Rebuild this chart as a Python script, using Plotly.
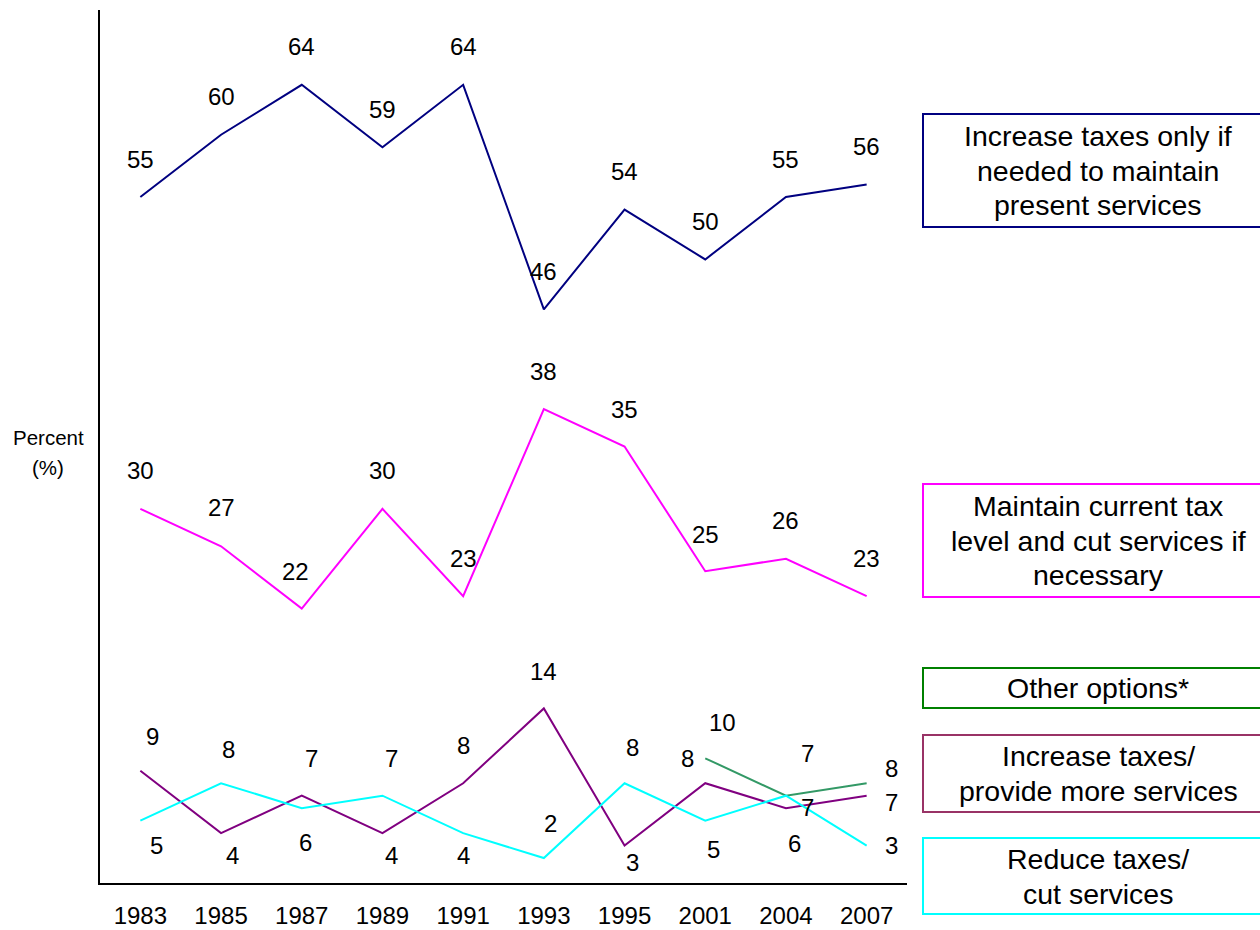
import plotly.graph_objects as go

years = ["1983", "1985", "1987", "1989", "1991", "1993", "1995", "2001", "2004", "2007"]
increase_if_needed = [55, 60, 64, 59, 64, 46, 54, 50, 55, 56]
maintain_cut = [30, 27, 22, 30, 23, 38, 35, 25, 26, 23]
increase_more = [9, 4, 7, 4, 8, 14, 3, 8, 6, 7]
reduce_cut = [5, 8, 6, 7, 4, 2, 8, 5, 7, 3]
other_options = [None, None, None, None, None, None, None, 10, 7, 8]

legend_names = [
    ["Increase taxes only if", "needed to maintain", "present services"],
    ["Maintain current tax", "level and cut services if", "necessary"],
    ["Other options*"],
    ["Increase taxes/", "provide more services"],
    ["Reduce taxes/", "cut services"],
]

# label pixel offsets (dx, dy_up) per point -- styling only
off_navy = [(0, 38)] * 10
off_mag = [(0, 38), (0, 39), (-6, 37), (0, 38), (0, 38), (0, 38), (0, 37), (0, 37), (0, 38), (0, 38)]
off_purple = [(12, 34), (11, -22), (10, 37), (9, -22), (0, 38), (0, 37), (8, -17), (-18, 25), (9, -35), (25, -7)]
off_cyan = [(16, -25), (7, 34), (4, -34), (9, 37), (0, -22), (7, 35), (8, 36), (8, -29), (22, 42), (25, 0)]
off_green = [None] * 7 + [(17, 36), (22, -12), (25, 15)]

series = [
    (increase_if_needed, "#000080", off_navy),
    (maintain_cut, "#FF00FF", off_mag),
    (other_options, "#339966", off_green),
    (increase_more, "#800080", off_purple),
    (reduce_cut, "#00FFFF", off_cyan),
]
box_colors = ["#000080", "#FF00FF", "#008000", "#993366", "#00FFFF"]
FONT = "Liberation Sans, Arial"

fig = go.Figure()
annotations = []
for (vals, color, offs), name in zip(series, legend_names):
    fig.add_trace(go.Scatter(x=years, y=vals, mode="lines", line=dict(color=color, width=2),
                             name=" ".join(name), showlegend=False))
    for i, (v, o) in enumerate(zip(vals, offs)):
        if v is None:
            continue
        annotations.append(dict(x=i, y=v, xref="x", yref="y", text=str(v), showarrow=False,
                                xanchor="center", yanchor="middle",
                                xshift=o[0], yshift=o[1],
                                font=dict(size=24, color="black", family=FONT)))

# legend boxes (pixel geometry converted to paper coords)
L, R, T, B = 100, 907, 10, 883
def px(xp):
    return (xp - L) / (R - L)
def py(yp):
    return (B - yp) / (B - T)

box_y = [(114, 227), (484, 597), (668, 708), (735, 812), (838, 914)]
LINE = 35
shapes = []
for (y0, y1), c, lines in zip(box_y, box_colors, legend_names):
    shapes.append(dict(type="rect", xref="paper", yref="paper", x0=px(923), x1=px(1273),
                       y0=py(y1), y1=py(y0), line=dict(color=c, width=2), fillcolor="white", layer="below"))
    yc = (y0 + y1) / 2
    n = len(lines)
    for k, t in enumerate(lines):
        ly = yc + (k - (n - 1) / 2) * LINE
        annotations.append(dict(x=px(1098), y=py(ly), xref="paper", yref="paper", text=t,
                                showarrow=False, xanchor="center", yanchor="middle", align="center",
                                font=dict(size=28.5, color="black", family=FONT)))

for k, t in enumerate(["Percent", "(%)"]):
    annotations.append(dict(x=px(48), y=py(437 + 30 * k), xref="paper", yref="paper", text=t,
                            showarrow=False, xanchor="center", yanchor="middle", align="center",
                            font=dict(size=20.5, color="black", family=FONT)))

fig.update_layout(
    template="none",
    width=1260, height=930,
    margin=dict(l=L, r=1260 - R, t=T, b=930 - B, pad=0),
    paper_bgcolor="white", plot_bgcolor="white",
    shapes=shapes, annotations=annotations,
    showlegend=False,
    font=dict(family=FONT, color="black"),
)
fig.update_xaxes(type="category", range=[-0.5, 9.5], showline=True, linecolor="black", linewidth=2,
                 showgrid=False, zeroline=False, ticks="", tickfont=dict(size=24, color="black"),
                 ticklabelstandoff=10, automargin=False)
fig.update_yaxes(range=[0, 70], showline=True, linecolor="black", linewidth=2, showgrid=False,
                 zeroline=False, showticklabels=False, ticks="", automargin=False)

fig.write_html("out.html", config={"displayModeBar": False},
               post_script="document.body.style.margin='0';")
